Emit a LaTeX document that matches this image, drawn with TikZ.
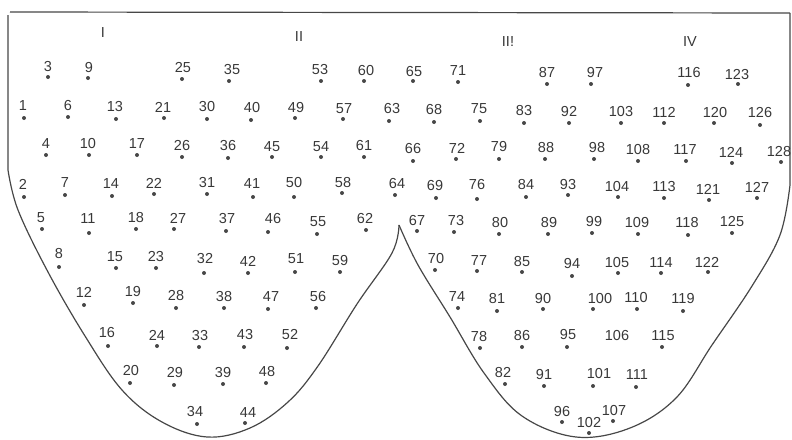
\documentclass[tikz,border=0pt]{standalone}
\usepackage{fontspec}
\setmainfont{Liberation Sans}
\begin{document}
\begin{tikzpicture}[x=1pt,y=-1pt,
  num/.style={font=\fontsize{14.5}{14.5}\selectfont, text=black!78, inner sep=0pt},
  dotmark/.style={circle, fill=black!72, inner sep=0pt, minimum size=4pt},
  outline/.style={draw=black!72, line width=1.2pt, line join=round}]
\useasboundingbox (0,0) rectangle (792,439);
% outline
\draw[outline] (10,12) -- (790,13);
\draw[outline] (8,15) -- (8,170) -- plot[smooth,tension=0.6] coordinates {(8,170)(18,210)(48,272)(85,336)(122,390)(162,422)(207,437)(250,428)(288,402)(318,366)(357,304)(392,253)(399,225)};
\draw[outline] plot[smooth,tension=0.6] coordinates {(399,225)(418,265)(450,317)(484,373)(522,416)(576,437)(630,428)(676,398)(712,345)(752,286)(780,235)(790,185)} -- (790,13);
% region labels
\node[num] (r1) at (103,33) {I};
\node[num] (r2) at (299,37) {II};
\node[num] (r3) at (508,42) {II!};
\node[num] (r4) at (690,42) {IV};
% points
\foreach \n/\dx/\dy/\lx/\ly in {
1/24/118/23/106, 2/24/197/23/184, 3/48/77/48/67, 4/46/155/46/144, 5/42/229/41/218,
6/68/117/68/106, 7/65/195/65/183, 8/59/267/59/254, 9/88/78/89/68, 10/89/155/88/144,
11/89/233/88/219, 12/84/305/84/292, 13/116/119/115/107, 14/112/196/111/184, 15/116/268/115/257,
16/108/346/107/333, 17/137/155/137/144, 18/136/229/136/218, 19/133/303/133/292, 20/130/383/131/371,
21/164/118/163/107, 22/154/194/154/183, 23/156/268/156/257, 24/157/346/157/335, 25/182/79/183/68,
26/182/157/182/146, 27/174/229/178/218, 28/176/308/176/296, 29/174/385/175/373, 30/207/119/207/107,
31/207/194/207/183, 32/204/273/205/259, 33/199/347/200/336, 34/197/424/195/412, 35/229/81/232/70,
36/228/158/228/146, 37/226/231/227/219, 38/224/308/224/297, 39/223/384/223/373, 40/251/120/252/108,
41/253/197/252/184, 42/248/273/248/261, 43/244/347/245/335, 44/245/423/248/413, 45/272/157/272/147,
46/268/232/273/219, 47/268/309/271/297, 48/266/383/267/372, 49/295/118/296/108, 50/294/197/294/183,
51/295/272/296/259, 52/287/348/290/335, 53/321/81/320/70, 54/321/157/321/147, 55/317/234/318/222,
56/316/308/318/297, 57/343/119/344/109, 58/342/193/343/183, 59/340/272/340/261, 60/364/81/366/71,
61/364/157/364/146, 62/366/230/365/219, 63/389/121/392/109, 64/395/195/397/184, 65/413/81/414/72,
66/413/161/413/149, 67/417/231/417/221, 68/434/122/434/110, 69/436/198/435/186, 70/435/270/436/259,
71/458/82/458/71, 72/456/159/457/148, 73/454/232/456/221, 74/458/308/457/297, 75/480/121/479/109,
76/477/199/477/185, 77/477/271/479/261, 78/480/348/479/337, 79/499/159/499/147, 80/499/234/500/223,
81/497/311/497/299, 82/505/384/503/373, 83/524/123/524/111, 84/526/197/526/185, 85/522/272/522/262,
86/522/347/522/336, 87/547/84/547/73, 88/545/159/546/148, 89/548/234/549/223, 90/543/309/543/299,
91/544/386/544/375, 92/569/123/569/112, 93/568/195/568/185, 94/572/276/572/264, 95/567/347/568/335,
96/562/422/562/412, 97/591/84/595/73, 98/594/159/597/148, 99/592/233/594/222, 100/593/309/600/299,
101/593/386/599/374, 102/589/433/589/423, 103/621/123/621/112, 104/618/197/617/187, 105/618/273/617/263,
107/613/421/614/411, 108/638/161/638/150, 109/638/234/637/223, 110/637/309/636/298,
111/636/387/637/375, 112/664/123/664/112, 113/664/198/664/187, 114/661/273/661/263, 115/662/347/663/336,
116/688/85/689/73, 117/686/161/685/150, 118/688/235/687/223, 119/683/311/683/299, 120/714/123/715/113,
121/709/200/708/189, 122/708/272/707/262, 123/738/84/737/75, 124/732/163/731/152, 125/732/233/732/222,
126/760/125/760/113, 127/757/198/757/187, 128/781/162/779/152}{
  \node[dotmark] (d\n) at (\dx,\dy) {};
  \node[num] (l\n) at (\lx,\ly) {\n};
}
\node[num] (l106) at (617,336) {106};
\end{tikzpicture}
\end{document}
